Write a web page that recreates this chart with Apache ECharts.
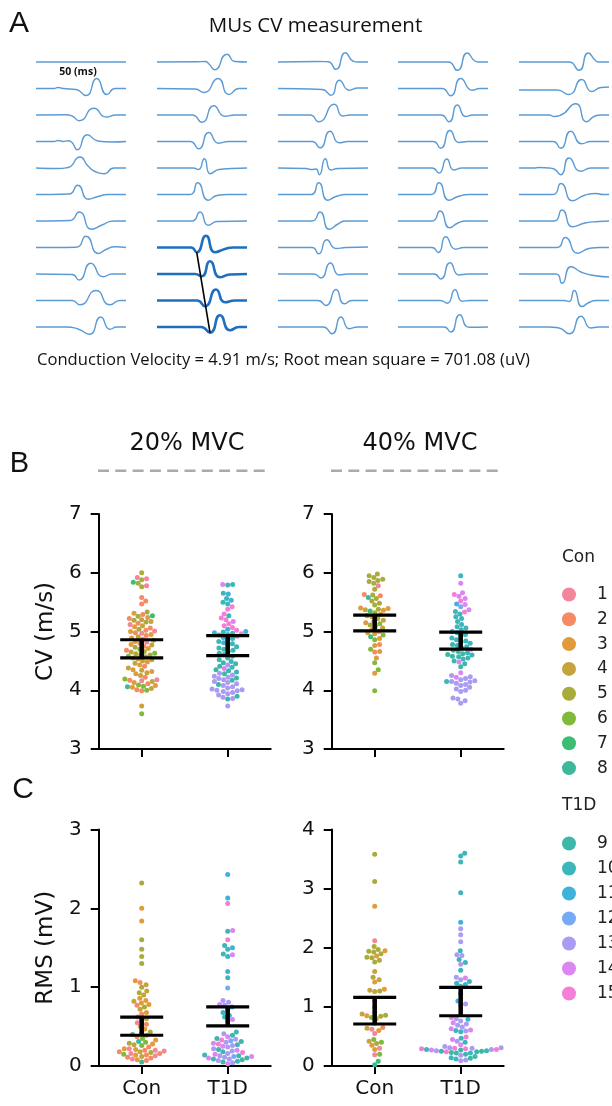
<!DOCTYPE html>
<html><head><meta charset="utf-8">
<script src="https://cdn.jsdelivr.net/npm/echarts@6/dist/echarts.min.js"></script>
<style>html,body{margin:0;padding:0;background:#fff}#c{width:612px;height:1106px}</style>
</head><body><div id="c"></div>
<script>
// ================= DATA =================
const groupLabels = ['Con', 'T1D'];
const conSubjects = ['1','2','3','4','5','6','7','8'];
const t1dSubjects = ['9','10','11','12','13','14','15'];
const subjectColors = ['#f4869b','#f58a64','#e29b3a','#c5a43d','#a9ac3a','#7fba3a','#3cbd73','#3cb99a',
                       '#3cb7a8','#3db6bb','#3fb2db','#78a9f7','#ac9bf2','#db86f2','#f47ed8'];
const cvTicks = [3, 7];
const rms20Ticks = [0, 3];
const rms40Ticks = [0, 4];

// Panel A: motor-unit waveforms, flat lists of [time, amplitude] key samples per trace
const waveCol1 = [
  [0,0, 90,0],
  [0,0, 18,0, 22,1, 27,0, 40,-1, 50,-7, 60.7,10, 71,-6, 79,0, 90,0],
  [0,0, 30,0.3, 36,-1, 43.3,-5.7, 58,6.7, 70,-2, 80,0, 90,0],
  [0,0, 18,0, 22,1, 27,0, 32,0.7, 36,-1, 41.3,-8.3, 51.3,6.7, 62,0.5, 75,-0.5, 90,0],
  [0,0, 22,-0.5, 32,0.5, 44,11, 52,2, 60,-4, 68,-5.7, 78,0, 90,0],
  [0,0, 33,0.5, 41.7,9.3, 52.3,-4.7, 62,-2, 72,0, 90,0],
  [0,0, 34,0.5, 43.3,9, 55.7,-8.3, 66,-4, 78,0, 90,0],
  [0,0, 40,0.3, 50,11.3, 62.3,-6, 70,-2, 79,0.7, 90,0],
  [0,0, 36,-0.5, 43,-6, 54.7,10.7, 67.3,-2.7, 76,0, 90,0],
  [0,0, 36,0, 44,-4.3, 60,10, 74,-4.3, 84,0, 90,0],
  [0,0, 30,0, 42,-2, 53.3,-7.3, 64.7,10, 74,-2.3, 81,0, 90,0]
];
const waveCol2 = [
  [0,0, 40,0.3, 48,0.5, 52,-2, 57.6,-7.7, 70,7.7, 78,0.5, 90,0],
  [0,0, 38,-0.5, 47,-4, 61,10, 72,-6, 82,0, 90,0],
  [0,0, 35,0, 45,-7.3, 56.7,9.3, 68,-1.3, 78,0, 90,0],
  [0,0, 33,0, 41.7,-7.3, 51.7,9, 61.7,-1.7, 72,0, 90,0],
  [0,0, 36,0, 41.3,-1.5, 47.3,9.3, 53.3,-5.7, 62,-1.5, 75,-0.5, 90,0],
  [0,0, 33,0, 40.7,11.7, 51.3,-5.7, 60,-1, 70,0, 90,0],
  [0,0, 35,0, 43,9, 51.3,-4.3, 60,-0.5, 90,0],
  [0,0, 34,0, 39.7,-4.7, 49,11.7, 58,-4.7, 68,-1.5, 76,0, 90,0],
  [0,0, 38,0, 44.7,-2.3, 53,12.7, 63,-3.3, 73,-0.5, 90,0],
  [0,0, 40,0, 48,-5.7, 59,11, 68,-1.7, 78,0, 90,0],
  [0,0, 44,0, 53,-5.7, 63,11.7, 73,-3.3, 82,0, 90,0]
];
const waveCol3 = [
  [0,0, 40,0.5, 50,0.3, 58,-7.3, 67.3,9.3, 75,1, 80,0, 90,0],
  [0,0, 44,-1, 53,-6.7, 61.3,8.3, 71.3,-1.7, 80,0.5, 90,0.5],
  [0,0, 32,0, 40.7,-6.7, 56.3,10.7, 64.7,-1, 72,0, 90,0],
  [0,0, 34,0, 42,-6.3, 52,10.3, 61.3,-1.3, 70,0, 90,0],
  [0,0, 28,-0.5, 34,-1.5, 38,-1, 41.3,-6.7, 47.3,9.3, 53,-2, 60,-0.5, 90,0],
  [0,0, 33,0, 40.7,11.7, 49.7,-5.7, 58,-2, 68,0, 90,0],
  [0,0, 34,0, 42,9, 51.3,-8.3, 60,-3, 68,0, 90,0],
  [0,0, 34,0, 40.7,-6.3, 48.7,7.7, 58,-1, 68,0, 90,0.5],
  [0,0, 36,0, 43,-4, 52.3,11, 61.3,-1, 70,0, 90,0],
  [0,0, 40,0, 48,-5, 58,11, 66.3,-3.3, 74,0, 90,0],
  [0,0, 45,0, 54,-6.7, 63,10, 71.3,-1.7, 80,0, 90,0]
];
const waveCol4 = [
  [0,0, 50,0, 59.3,-8.3, 69.3,9, 77,1, 81,0, 90,0],
  [0,0, 44,0, 52.7,-7.3, 62.7,10, 74.3,-1.7, 82,0, 90,0],
  [0,0, 43,0, 51,-6.7, 59.3,10, 67.7,-1.5, 75,0, 90,0],
  [0,0, 35,0, 42.7,-6.7, 52,11, 61,-1, 70,0, 90,0],
  [0,0, 34,0, 41,-5, 48.7,9, 56,-2, 64,0, 90,0],
  [0,0, 33,0, 41,11.7, 51,-5.7, 60,-2, 71,0, 90,0],
  [0,0, 34,0, 42,10, 51.7,-6.7, 60,-2, 68,0, 90,0],
  [0,0, 34,0, 40.3,-5, 47.7,10.7, 57.7,-1.7, 66,0, 90,0],
  [0,0, 36,0, 42.7,-5, 52,11.3, 61,-1, 70,0, 90,0],
  [0,0, 42,0, 49.3,-2.7, 57,10.7, 64.3,-0.7, 72,0, 90,0],
  [0,0, 46,0, 52.7,-5, 61.7,12.3, 71,-0.3, 90,0]
];
const waveCol5 = [
  [0,0, 50,0, 60,-8.3, 69.3,9, 77,1, 80,0, 90,0],
  [0,-1.5, 38,-1.5, 50,-6, 62.7,9, 72.7,-3, 82,1, 90,1.5],
  [0,0, 30,0, 35,-1.5, 42,0, 56.7,11.3, 67.7,-6.7, 76,-1, 82,0, 90,0],
  [0,0, 34,0, 41.7,-6.7, 51.7,10.3, 62.7,-2.3, 72,0, 90,0],
  [0,0, 15,0, 20,0.5, 30,0, 35,-1, 41.7,-6.7, 50,10, 61.7,-3.3, 72,0, 90,0],
  [0,0, 34,0, 42,11, 53.7,-6.3, 65,-1, 77,1, 84,0, 90,0],
  [0,0, 35,0, 43,11, 53.7,-5.7, 66,-2, 80,-0.5, 90,0],
  [0,0, 38,0, 46.3,10, 58.7,-5.7, 70,-1, 80,0, 90,0],
  [0,0, 37,0, 43,-9.3, 52,7.3, 62,2, 75,-1.5, 90,-3],
  [0,0, 45,0, 50,-1, 55.3,10, 63,-6, 70,-2, 77,0, 90,0],
  [0,0, 30,0, 40,-1, 50.3,-6.7, 62,10.7, 72,-1, 80,0, 90,0]
];
const scaleBarLabel = '50 (ms)';
const panelATitle = 'MUs CV measurement';
const panelACaption = 'Conduction Velocity = 4.91 m/s; Root mean square = 701.08 (uV)';

// Panel B/C: [value, subject]
const cv20Con = [[6.00,5],[5.92,1],[5.90,1],[5.88,5],[5.84,7],[5.82,5],[5.78,1],[5.76,5],[5.58,2],[5.52,2],[5.47,2],
 [5.33,5],[5.31,3],[5.29,2],[5.27,7],[5.26,5],[5.24,3],[5.22,2],[5.20,4],
 [5.19,5],[5.17,4],[5.16,5],[5.14,2],[5.12,1],[5.10,4],[5.08,3],[5.06,2],[5.04,5],[5.02,2],[5.01,1],[5.00,3],
 [4.98,2],[4.97,1],[4.95,3],[4.93,2],[4.91,4],[4.89,3],[4.87,2],[4.85,5],[4.83,3],[4.82,1],[4.80,2],[4.78,3],
 [4.77,4],[4.75,2],[4.73,5],[4.71,3],[4.70,6],[4.68,2],[4.66,5],[4.65,4],[4.63,6],[4.62,5],[4.60,4],[4.60,5],
 [4.58,6],[4.57,5],[4.55,4],[4.53,3],[4.52,5],[4.50,4],[4.48,3],[4.46,4],[4.43,3],[4.41,2],
 [4.38,4],[4.35,3],[4.34,4],[4.32,3],[4.30,4],[4.28,3],[4.25,4],[4.22,2],
 [4.19,6],[4.18,1],[4.17,2],[4.16,1],[4.15,4],[4.13,3],[4.11,2],[4.09,6],[4.08,3],[4.07,6],[4.06,8],[4.05,3],[4.03,4],[4.01,2],[4.00,6],[3.99,2],
 [3.73,4],[3.60,6]];
const cv20T1D = [[5.80,10],[5.80,14],[5.79,10],[5.65,10],[5.64,11],[5.56,10],[5.53,11],[5.50,10],[5.47,10],[5.42,15],[5.38,15],[5.30,15],[5.27,10],[5.23,15],[5.20,15],[5.17,14],[5.13,15],[5.10,15],[5.07,15],[5.04,11],[5.02,15],
 [5.00,11],[4.99,10],[4.98,11],[4.97,10],[4.96,15],[4.95,11],[4.94,10],[4.92,14],[4.90,11],
 [4.88,10],[4.86,11],[4.83,10],[4.81,11],[4.79,10],[4.76,11],[4.74,10],[4.72,10],[4.70,9],
 [4.68,9],[4.66,10],[4.63,9],[4.61,10],[4.58,9],[4.55,9],[4.52,9],
 [4.49,10],[4.47,9],[4.45,9],[4.43,13],[4.41,9],[4.39,10],[4.37,14],[4.35,9],[4.33,9],[4.31,10],
 [4.29,13],[4.28,9],[4.26,13],[4.24,13],[4.22,13],[4.21,9],[4.20,13],[4.18,13],[4.17,9],[4.15,13],[4.13,13],[4.11,13],[4.10,9],[4.08,13],[4.06,13],[4.04,13],[4.02,13],[4.01,13],[4.00,13],
 [3.99,13],[3.98,13],[3.96,13],[3.94,13],[3.92,13],[3.90,9],[3.88,13],[3.86,13],[3.85,9],[3.73,13]];
const cv40Con = [[5.98,5],[5.95,5],[5.92,5],[5.89,5],[5.87,5],[5.85,5],[5.82,5],[5.78,1],[5.72,5],[5.63,2],[5.62,5],[5.61,2],[5.58,8],[5.56,5],[5.52,5],[5.48,5],[5.45,5],[5.40,3],[5.39,3],[5.38,5],[5.37,4],[5.36,3],[5.35,7],[5.32,5],[5.29,4],[5.27,5],[5.25,4],[5.22,5],[5.19,4],[5.17,1],[5.15,3],[5.13,6],[5.11,5],[5.09,4],[5.06,4],[5.03,4],[5.00,3],[4.98,3],[4.96,3],[4.94,6],[4.91,7],[4.88,3],[4.86,6],[4.78,2],[4.76,3],[4.70,6],[4.66,3],[4.65,2],[4.55,3],[4.47,6],[4.35,6],[4.29,3],[3.99,6]];
const cv40T1D = [[5.95,10],[5.82,14],[5.66,14],[5.63,15],[5.60,14],[5.56,14],[5.52,15],[5.47,11],[5.46,14],[5.42,12],[5.37,14],[5.34,10],[5.33,15],[5.30,10],[5.25,10],[5.22,10],[5.17,10],[5.12,10],[5.08,10],[5.06,10],[5.03,10],[5.00,10],[4.98,10],[4.95,10],[4.92,10],[4.89,10],[4.86,10],[4.84,10],[4.82,9],[4.80,10],[4.78,9],[4.76,10],[4.74,10],[4.72,9],[4.70,15],[4.68,9],[4.66,9],[4.64,10],[4.62,9],[4.61,9],[4.60,10],[4.58,9],[4.57,9],[4.55,9],[4.53,10],[4.50,9],[4.48,14],[4.45,9],[4.40,9],[4.30,14],[4.25,13],[4.23,13],[4.22,14],[4.20,13],[4.18,13],[4.16,13],[4.15,13],[4.15,10],[4.14,13],[4.12,13],[4.10,13],[4.08,13],[4.05,13],[4.02,13],[4.00,13],[3.98,13],[3.87,13],[3.85,13],[3.82,13],[3.78,13]];
const rms20Con = [[2.32,5],[2.00,3],[1.84,3],[1.60,5],[1.48,5],[1.39,5],[1.30,5],[1.08,3],[1.06,2],[1.03,4],[1.00,5],[0.95,4],[0.93,5],[0.90,4],[0.86,3],[0.83,3],[0.82,4],[0.80,3],[0.78,3],[0.77,2],[0.75,5],[0.72,4],[0.68,3],[0.66,2],[0.62,1],[0.60,4],[0.58,2],[0.55,1],[0.53,2],[0.50,4],[0.47,3],[0.43,5],[0.42,6],[0.40,7],[0.39,5],[0.37,2],[0.35,6],[0.33,3],[0.31,8],[0.30,6],[0.29,5],[0.28,3],[0.27,4],[0.26,6],[0.24,2],[0.22,1],[0.21,3],[0.20,2],[0.19,1],[0.18,4],[0.18,2],[0.17,5],[0.16,1],[0.15,6],[0.14,2],[0.14,3],[0.13,1],[0.12,4],[0.11,2],[0.10,2],[0.09,1],[0.08,3],[0.07,2],[0.05,8],[0.20,1],[0.16,2],[0.22,3]];
const rms20T1D = [[2.43,11],[2.13,11],[2.06,15],[1.72,14],[1.71,10],[1.60,15],[1.53,10],[1.50,11],[1.48,10],[1.42,10],[1.41,14],[1.39,10],[1.20,11],[1.12,10],[0.99,12],[0.83,13],[0.81,13],[0.78,14],[0.77,13],[0.75,10],[0.72,11],[0.68,10],[0.64,11],[0.62,10],[0.59,14],[0.57,15],[0.43,10],[0.41,13],[0.39,9],[0.37,14],[0.35,9],[0.34,13],[0.33,15],[0.32,12],[0.31,9],[0.30,13],[0.29,14],[0.28,15],[0.27,10],[0.26,13],[0.25,14],[0.24,13],[0.22,13],[0.21,9],[0.20,14],[0.19,13],[0.18,10],[0.17,15],[0.16,13],[0.15,14],[0.14,10],[0.13,13],[0.13,9],[0.12,12],[0.12,14],[0.11,13],[0.10,9],[0.10,14],[0.09,13],[0.09,10],[0.08,9],[0.07,13],[0.06,10],[0.05,9],[0.04,13],[0.03,14]];
const rms40Con = [[3.58,5],[3.12,5],[2.70,3],[2.12,1],[2.02,5],[1.97,5],[1.95,3],[1.94,5],[1.93,5],[1.90,5],[1.86,3],[1.84,5],[1.83,5],[1.79,5],[1.76,5],[1.60,4],[1.50,5],[1.46,4],[1.42,3],[1.30,3],[1.28,4],[1.27,5],[1.26,4],[1.10,1],[1.00,1],[0.91,2],[0.88,4],[0.86,5],[0.85,3],[0.84,5],[0.82,6],[0.80,3],[0.72,3],[0.65,2],[0.64,4],[0.62,1],[0.60,3],[0.55,1],[0.45,6],[0.42,4],[0.40,6],[0.38,5],[0.35,3],[0.30,1],[0.28,3],[0.20,6],[0.19,1],[0.08,7],[0.02,8]];
const rms40T1D = [[3.60,10],[3.55,10],[3.45,10],[2.93,10],[2.43,11],[2.32,13],[2.22,13],[2.10,13],[1.95,10],[1.88,13],[1.87,13],[1.80,10],[1.75,10],[1.72,13],[1.62,10],[1.50,13],[1.49,14],[1.46,13],[1.43,10],[1.40,10],[1.38,11],[1.35,10],[1.22,10],[1.10,11],[1.05,13],[1.03,15],[0.82,15],[0.80,13],[0.79,11],[0.76,13],[0.73,14],[0.71,13],[0.69,13],[0.66,13],[0.63,14],[0.61,14],[0.59,13],[0.58,10],[0.60,10],[0.49,15],[0.47,10],[0.45,14],[0.42,13],[0.40,10],[0.36,14],[0.33,13],[0.31,13],[0.30,15],[0.29,15],[0.28,13],[0.28,10],[0.27,9],[0.26,13],[0.25,9],[0.24,15],[0.23,9],[0.22,9],[0.22,10],[0.20,9],[0.18,13],[0.16,9],[0.14,10],[0.13,9],[0.12,10],[0.10,13],[0.09,13],[0.25,9],[0.24,9],[0.26,10],[0.28,15],[0.29,15],[0.30,13],[0.31,13],[0.27,14]];

// 95% CI [low, high] for Con and T1D
const cv20CiLow = [4.55, 4.59],  cv20CiHigh = [4.86, 4.93];
const cv40CiLow = [5.01, 4.70],  cv40CiHigh = [5.28, 4.99];
const rms20CiLow = [0.39, 0.51], rms20CiHigh = [0.62, 0.75];
const rms40CiLow = [0.71, 0.85], rms40CiHigh = [1.16, 1.33];

// ================= LAYOUT / BUILD =================
const FONT = 'DejaVu Sans';
const colLeft = [36, 157, 278, 398, 519];
const rowTop = 62, rowStep = 26.5;
const waveCols = [waveCol1, waveCol2, waveCol3, waveCol4, waveCol5];
const thickCol = 1, thickRows = [7, 8, 9, 10];

const grids = [{left: 0, top: 0, width: 612, height: 400}];
const xAxes = [{type: 'value', gridIndex: 0, min: 0, max: 612, show: false}];
const yAxes = [{type: 'value', gridIndex: 0, min: 0, max: 400, inverse: true, show: false}];
const series = [];

waveCols.forEach((col, c) => {
  col.forEach((w, r) => {
    const pts = [];
    for (let i = 0; i < w.length; i += 2) pts.push([colLeft[c] + w[i], rowTop + r * rowStep - w[i + 1]]);
    const thick = c === thickCol && thickRows.includes(r);
    series.push({type: 'line', xAxisIndex: 0, yAxisIndex: 0, data: pts, smooth: 0.6, showSymbol: false, silent: true,
      lineStyle: {color: thick ? '#1f6fbf' : '#5b9bd5', width: thick ? 2.6 : 1.4}, z: 2});
  });
});
// propagation line across the dips of the highlighted channels
function dipPoint(c, r) {
  const w = waveCols[c][r]; let bi = 0;
  for (let i = 0; i < w.length; i += 2) if (w[i + 1] < w[bi + 1]) bi = i;
  return [colLeft[c] + w[bi], rowTop + r * rowStep - w[bi + 1]];
}
series.push({type: 'line', xAxisIndex: 0, yAxisIndex: 0, silent: true, showSymbol: false, z: 3,
  data: [dipPoint(thickCol, thickRows[0]), dipPoint(thickCol, thickRows[thickRows.length - 1])],
  lineStyle: {color: '#000', width: 1.6}});

const panels = [
  {left: 98.7, top: 514, width: 172, height: 235, ticks: cvTicks, con: cv20Con, t1d: cv20T1D, lo: cv20CiLow, hi: cv20CiHigh, name: 'CV (m/s)', xlabels: false},
  {left: 331.7, top: 514, width: 172, height: 235, ticks: cvTicks, con: cv40Con, t1d: cv40T1D, lo: cv40CiLow, hi: cv40CiHigh, name: '', xlabels: false},
  {left: 98.7, top: 829.5, width: 172, height: 236.5, ticks: rms20Ticks, con: rms20Con, t1d: rms20T1D, lo: rms20CiLow, hi: rms20CiHigh, name: 'RMS (mV)', xlabels: true},
  {left: 331.7, top: 829.5, width: 172, height: 236.5, ticks: rms40Ticks, con: rms40Con, t1d: rms40T1D, lo: rms40CiLow, hi: rms40CiHigh, name: '', xlabels: true}
];

function swarm(vals, pxPerUnit, d) {
  const idx = vals.map((v, i) => i).sort((a, b) => vals[a] - vals[b]);
  const placed = []; const out = new Array(vals.length);
  for (const i of idx) {
    const y = vals[i] * pxPerUnit;
    const near = placed.filter(p => Math.abs(p.y - y) < d);
    const cands = [0];
    near.forEach(p => { const dx = Math.sqrt(d * d - (p.y - y) * (p.y - y)); cands.push(p.x + dx, p.x - dx); });
    cands.sort((a, b) => Math.abs(a) - Math.abs(b));
    let chosen = cands[cands.length - 1];
    for (const cx of cands) {
      if (near.every(p => (p.x - cx) * (p.x - cx) + (p.y - y) * (p.y - y) >= d * d - 1e-6)) { chosen = cx; break; }
    }
    placed.push({x: chosen, y}); out[i] = chosen;
  }
  return out;
}

panels.forEach((p, k) => {
  const gi = k + 1;
  grids.push({left: p.left, top: p.top, width: p.width, height: p.height});
  xAxes.push({type: 'category', gridIndex: gi, data: groupLabels, boundaryGap: true, position: 'bottom',
    axisLine: {show: true, onZero: false, lineStyle: {color: '#000', width: 2}},
    axisTick: {show: true, alignWithLabel: true, length: 8, lineStyle: {color: '#000', width: 2}},
    axisLabel: {show: p.xlabels, fontFamily: FONT, fontSize: 20, color: '#111', margin: 13},
    splitLine: {show: false}});
  const valIdx = xAxes.length;
  xAxes.push({type: 'value', gridIndex: gi, min: -0.5, max: 1.5, show: false});
  const yIdx = yAxes.length;
  yAxes.push({type: 'value', gridIndex: gi, min: p.ticks[0], max: p.ticks[1], interval: 1, position: 'left',
    name: p.name, nameLocation: 'middle', nameGap: 41, nameTextStyle: {fontFamily: FONT, fontSize: 23, color: '#111'},
    axisLine: {show: true, onZero: false, lineStyle: {color: '#000', width: 2}},
    axisTick: {show: true, length: 8, lineStyle: {color: '#000', width: 2}},
    axisLabel: {fontFamily: FONT, fontSize: 20, color: '#111', margin: 17},
    splitLine: {show: false}});
  const pxPerY = p.height / (p.ticks[1] - p.ticks[0]);
  const pxPerX = p.width / 2;
  [p.con, p.t1d].forEach((grp, g) => {
    const offs = swarm(grp.map(d => d[0]), pxPerY, 5);
    const bySubj = {};
    grp.forEach((d, i) => { (bySubj[d[1]] = bySubj[d[1]] || []).push([g + offs[i] / pxPerX, d[0]]); });
    Object.keys(bySubj).forEach(s => {
      series.push({type: 'scatter', name: String(s), xAxisIndex: valIdx, yAxisIndex: yIdx, data: bySubj[s],
        symbolSize: 5, itemStyle: {color: subjectColors[+s - 1], opacity: 1}, silent: true, z: 3});
    });
  });
  series.push({type: 'custom', xAxisIndex: valIdx, yAxisIndex: yIdx, silent: true, z: 5,
    data: [[0, p.lo[0], p.hi[0]], [1, p.lo[1], p.hi[1]]],
    encode: {x: 0, y: [1, 2]},
    renderItem: (params, api) => {
      const a = api.coord([api.value(0), api.value(1)]);
      const b = api.coord([api.value(0), api.value(2)]);
      const hw = 21.5;
      return {type: 'group', children: [
        {type: 'line', shape: {x1: a[0], y1: a[1], x2: b[0], y2: b[1]}, style: {stroke: '#000', lineWidth: 4.5}},
        {type: 'line', shape: {x1: a[0] - hw, y1: a[1], x2: a[0] + hw, y2: a[1]}, style: {stroke: '#000', lineWidth: 3.2}},
        {type: 'line', shape: {x1: b[0] - hw, y1: b[1], x2: b[0] + hw, y2: b[1]}, style: {stroke: '#000', lineWidth: 3.2}}
      ]};
    }});
});

function txt(x, y, text, font, align, fill) {
  return {type: 'text', x, y, silent: true, z: 10,
    style: {text, font, textAlign: align || 'center', textVerticalAlign: 'middle', fill: fill || '#111'}};
}
const graphics = [
  txt(19, 24, 'A', '30px "Liberation Sans"'),
  txt(315.5, 26, panelATitle, '20.5px "Open Sans"'),
  txt(78, 72.5, scaleBarLabel, 'bold 10.5px "Open Sans"'),
  txt(37, 360, panelACaption, '16.6px "Open Sans"', 'left'),
  txt(19.5, 464, 'B', '29px "Liberation Sans"'),
  txt(23, 790, 'C', '30px "Liberation Sans"'),
  txt(187, 444, '20% MVC', '24px "DejaVu Sans"'),
  txt(420, 444, '40% MVC', '24px "DejaVu Sans"'),
  txt(562, 558, 'Con', '17px "DejaVu Sans"', 'left', '#222'),
  txt(562, 806, 'T1D', '17px "DejaVu Sans"', 'left', '#222'),
  {type: 'line', silent: true, shape: {x1: 98, y1: 470.7, x2: 271, y2: 470.7}, style: {stroke: '#aaaaaa', lineWidth: 2.6, lineDash: [11, 6.3]}},
  {type: 'line', silent: true, shape: {x1: 331, y1: 470.7, x2: 504, y2: 470.7}, style: {stroke: '#aaaaaa', lineWidth: 2.6, lineDash: [11, 6.3]}}
];

const legendCommon = {orient: 'vertical', left: 562, itemWidth: 14, itemHeight: 14, icon: 'circle',
  selectedMode: false, padding: 0, textStyle: {fontFamily: FONT, fontSize: 17, color: '#222', padding: [0, 0, 0, 16]}};

const chart = echarts.init(document.getElementById('c'), null, {renderer: 'canvas'});
chart.setOption({
  backgroundColor: '#fff',
  animation: false,
  grid: grids, xAxis: xAxes, yAxis: yAxes, series,
  legend: [Object.assign({data: conSubjects, top: 586, itemGap: 7.8}, legendCommon),
           Object.assign({data: t1dSubjects, top: 835, itemGap: 8}, legendCommon)],
  graphic: graphics
});
</script></body></html>
